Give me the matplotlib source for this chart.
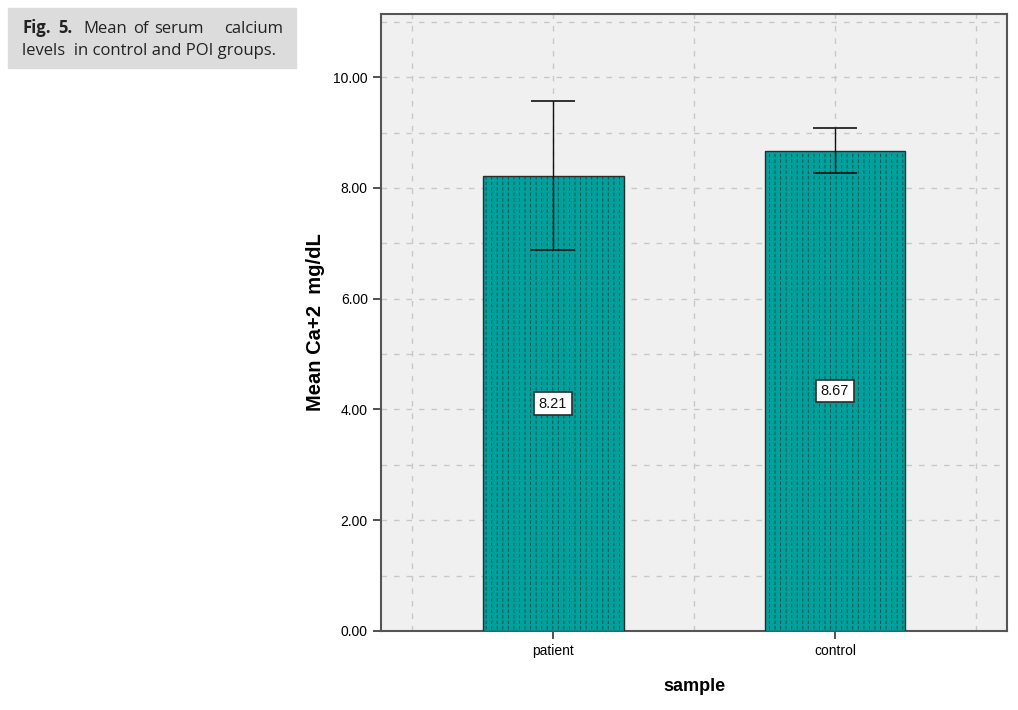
import matplotlib
matplotlib.use("Agg")
import matplotlib.pyplot as plt
from matplotlib.ticker import MultipleLocator, FixedLocator
import numpy as np

# === DATA ===
groups = ["patient", "control"]
means = [8.21, 8.67]
err_low = [6.88, 8.27]
err_high = [9.57, 9.09]
value_labels = ["8.21", "8.67"]

TEAL = '#00a19c'

plt.rcParams['font.family'] = ['Liberation Sans', 'DejaVu Sans']

fig = plt.figure(figsize=(10.18, 7.10), dpi=100)
ax = fig.add_axes([0.3743, 0.1113, 0.6149, 0.869])
ax.set_facecolor('#f0f0f0')

x = np.arange(len(groups))
means = np.array(means)
yerr = np.array([means - np.array(err_low), np.array(err_high) - means])

# teal bars with dark vertical hatch, broken into dots by a teal horizontal hatch
with plt.rc_context({'hatch.linewidth': 0.7}):
    ax.bar(x, means, width=0.5, color=TEAL, edgecolor='#1b4f4d',
           linewidth=0, hatch='|||', zorder=3)
with plt.rc_context({'hatch.linewidth': 1.5}):
    ax.bar(x, means, width=0.5, facecolor='none', edgecolor=TEAL,
           linewidth=0, hatch='---', zorder=3.1)
ax.bar(x, means, width=0.5, facecolor='none', edgecolor='#2b2b2b',
       linewidth=1.0, zorder=3.2)

ax.errorbar(x, means, yerr=yerr, fmt='none', ecolor='#111111',
            elinewidth=1.0, capsize=15.5, capthick=1.2, zorder=4)

for xi, m, lab in zip(x, means, value_labels):
    ax.text(xi, m / 2, lab, ha='center', va='center', fontsize=10.5,
            color='#111111', zorder=5,
            bbox=dict(boxstyle='square,pad=0.3', fc='white', ec='#2b2b2b', lw=1.2))

ax.set_xlim(-0.61, 1.61)
ax.set_ylim(0, 11.14)
ax.set_xticks(x)
ax.set_xticklabels(groups, fontsize=10)
ax.xaxis.set_minor_locator(FixedLocator([-0.5, 0.5, 1.5]))
ax.set_yticks(np.arange(0, 11, 2))
ax.set_yticklabels([f"{v:.2f}" for v in np.arange(0, 11, 2)], fontsize=10)
ax.yaxis.set_minor_locator(MultipleLocator(1))
ax.tick_params(which='major', direction='out', length=6, width=1.2, color='#333333')
ax.tick_params(which='minor', length=0)

ax.grid(True, which='both', color='#c8c8c8', linestyle=(0, (4, 5)), linewidth=1.0, zorder=0)
ax.set_axisbelow(True)

for s in ax.spines.values():
    s.set_color('#555555')
    s.set_linewidth(1.5)

ax.set_xlabel("sample", fontsize=13, fontweight='bold', labelpad=14)
ax.set_ylabel("Mean Ca+2  mg/dL", fontsize=14.5, fontweight='bold', labelpad=6)

# caption box (justified first line, word by word)
W, H = 1018, 710
fig.patches.append(plt.Rectangle((8 / W, 1 - 68 / H), 288 / W, 60 / H,
                                 transform=fig.transFigure, color='#dcdcdc', zorder=0))
cap_font = ['Open Sans', 'DejaVu Sans']
line1 = [("Fig.", 22, 'bold'), ("5.", 58, 'bold'), ("Mean", 83, 'normal'),
         ("of", 133, 'normal'), ("serum", 154, 'normal'), ("calcium", 224, 'normal')]
for word, px, wt in line1:
    fig.text(px / W, 1 - 33 / H, word, fontsize=12, fontweight=wt,
             family=cap_font, color='#222222')
fig.text(22 / W, 1 - 55 / H, "levels  in control and POI groups.", fontsize=12,
         family=cap_font, color='#222222')

fig.savefig("out.png", dpi=100)
